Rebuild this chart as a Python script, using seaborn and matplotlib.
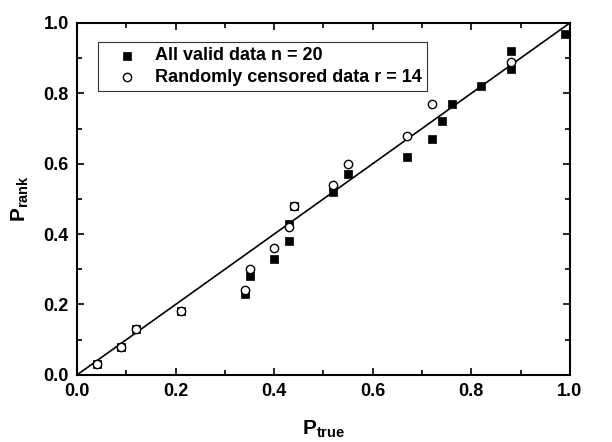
import matplotlib
matplotlib.use("Agg")
import matplotlib.pyplot as plt
import seaborn as sns
import pandas as pd
from matplotlib.ticker import MultipleLocator, FormatStrFormatter

sns.set_theme(style="ticks")
plt.rcParams['font.family'] = ['Liberation Sans', 'DejaVu Sans']
plt.rcParams['font.weight'] = 'bold'
plt.rcParams['mathtext.fontset'] = 'custom'
plt.rcParams['mathtext.rm'] = 'Liberation Sans:bold'
plt.rcParams['mathtext.bf'] = 'Liberation Sans:bold'
plt.rcParams['mathtext.it'] = 'Liberation Sans:bold'

# All valid data (n = 20)
all_x = [0.04, 0.09, 0.12, 0.21, 0.34, 0.35, 0.40, 0.43, 0.43, 0.44,
         0.52, 0.55, 0.67, 0.72, 0.74, 0.76, 0.82, 0.88, 0.88, 0.99]
all_y = [0.03, 0.08, 0.13, 0.18, 0.23, 0.28, 0.33, 0.38, 0.43, 0.48,
         0.52, 0.57, 0.62, 0.67, 0.72, 0.77, 0.82, 0.87, 0.92, 0.97]

# Randomly censored data (r = 14)
cen_x = [0.04, 0.09, 0.12, 0.21, 0.34, 0.35, 0.40, 0.43, 0.44, 0.52,
         0.55, 0.67, 0.72, 0.88]
cen_y = [0.03, 0.08, 0.13, 0.18, 0.24, 0.30, 0.36, 0.42, 0.48, 0.54,
         0.60, 0.68, 0.77, 0.89]

line_x = [0.0, 1.0]
line_y = [0.0, 1.0]

label_all = "All valid data n = 20"
label_cen = "Randomly censored data r = 14"

df_all = pd.DataFrame({"x": all_x, "y": all_y})
df_cen = pd.DataFrame({"x": cen_x, "y": cen_y})
df_line = pd.DataFrame({"x": line_x, "y": line_y})

fig = plt.figure(figsize=(6.12, 4.42), dpi=100)
ax = fig.add_axes([0.126, 0.152, 0.805, 0.796])

sns.lineplot(data=df_line, x="x", y="y", ax=ax, color="black", linewidth=1.2,
             legend=False)
sns.scatterplot(data=df_all, x="x", y="y", ax=ax, marker="s", s=32,
                color="black", edgecolor="black", linewidth=0.5,
                label=label_all, zorder=3)
sns.scatterplot(data=df_cen, x="x", y="y", ax=ax, marker="o", s=36,
                facecolor="white", edgecolor="black", linewidth=1.0,
                label=label_cen, zorder=4)

ax.set_xlim(0, 1.0)
ax.set_ylim(0, 1.0)
ax.xaxis.set_major_locator(MultipleLocator(0.2))
ax.xaxis.set_minor_locator(MultipleLocator(0.1))
ax.yaxis.set_major_locator(MultipleLocator(0.2))
ax.yaxis.set_minor_locator(MultipleLocator(0.1))
ax.xaxis.set_major_formatter(FormatStrFormatter('%.1f'))
ax.yaxis.set_major_formatter(FormatStrFormatter('%.1f'))
ax.tick_params(which='both', direction='in', top=True, right=True,
               color='black', labelsize=13, labelcolor='black')
ax.tick_params(which='major', length=5, width=1.2, pad=6)
ax.tick_params(which='minor', length=3.5, width=1.2)
for lab in ax.get_xticklabels() + ax.get_yticklabels():
    lab.set_fontweight('bold')
for sp in ax.spines.values():
    sp.set_visible(True)
    sp.set_linewidth(1.5)
    sp.set_color('black')

ax.set_xlabel(r'$\mathbf{P_{true}}$', fontsize=15, color='black', labelpad=13)
ax.set_ylabel(r'$\mathbf{P_{rank}}$', fontsize=15, color='black', labelpad=9)

leg = ax.legend(loc='upper left', bbox_to_anchor=(0.043, 0.946),
                frameon=True, fancybox=False, edgecolor='black',
                prop={'weight': 'bold', 'size': 13}, borderpad=0.3,
                handletextpad=0.25, labelspacing=0.25, borderaxespad=0,
                markerscale=1.0, handlelength=2.6)
leg.get_frame().set_linewidth(0.8)
for t in leg.get_texts():
    t.set_color('black')

fig.savefig("out.png", dpi=100)
